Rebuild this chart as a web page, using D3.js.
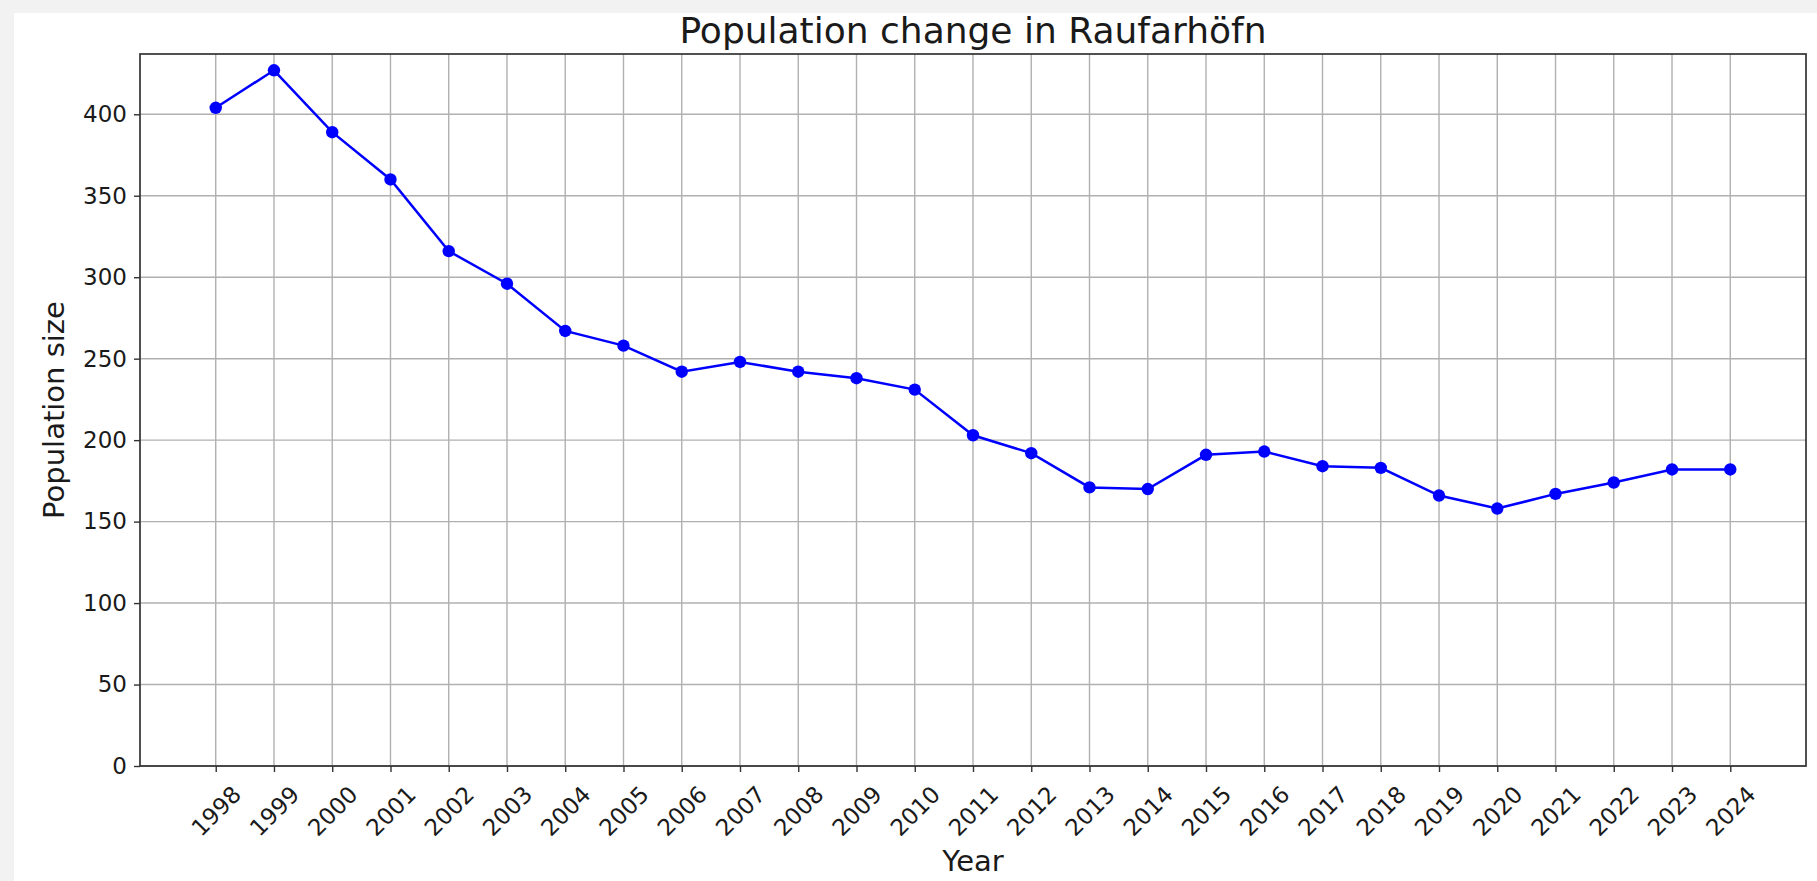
<!DOCTYPE html>
<html>
<head>
<meta charset="utf-8">
<script src="https://cdn.jsdelivr.net/npm/d3@7"></script>
<style>
  html, body { margin: 0; padding: 0; background: #f2f2f2; }
  svg { display: block; }
  text { font-family: "DejaVu Sans", sans-serif; fill: #1a1a1a; }
</style>
</head>
<body>
<div id="chart"></div>
<script>
// data
var years = [1998, 1999, 2000, 2001, 2002, 2003, 2004, 2005, 2006, 2007, 2008, 2009, 2010,
    2011, 2012, 2013, 2014, 2015, 2016, 2017, 2018, 2019, 2020, 2021, 2022, 2023, 2024];
var population = [404, 427, 389, 360, 316, 296, 267, 258, 242, 248, 242, 238, 231,
    203, 192, 171, 170, 191, 193, 184, 183, 166, 158, 167, 174, 182, 182];
var yTicks = [0, 50, 100, 150, 200, 250, 300, 350, 400];

var W = 1817, H = 881;
var margin = { top: 54, right: 11, bottom: 115, left: 140 },
    width = W - margin.left - margin.right,
    height = H - margin.top - margin.bottom;

var root = d3.select("#chart")
    .append("svg")
    .attr("width", W)
    .attr("height", H);

// white figure area (grey strip top/left like the screenshot)
root.append("rect")
    .attr("x", 14).attr("y", 13)
    .attr("width", W - 14).attr("height", H - 13)
    .attr("fill", "#fff");

var svg = root.append("g")
    .attr("transform", "translate(" + margin.left + "," + margin.top + ")");

// x: years with matplotlib-like 5% padding
var pad = (years[years.length - 1] - years[0]) * 0.05;
var x = d3.scaleLinear()
    .domain([years[0] - pad, years[years.length - 1] + pad])
    .range([0, width]);

var y = d3.scaleLinear()
    .domain([0, 437])
    .range([height, 0]);

// grid
svg.append("g").selectAll("line.vgrid")
    .data(years)
    .enter().append("line")
    .attr("x1", d => x(d)).attr("x2", d => x(d))
    .attr("y1", 0).attr("y2", height)
    .attr("stroke", "#b0b0b0").attr("stroke-width", 1.4);

svg.append("g").selectAll("line.hgrid")
    .data(yTicks)
    .enter().append("line")
    .attr("x1", 0).attr("x2", width)
    .attr("y1", d => y(d)).attr("y2", d => y(d))
    .attr("stroke", "#b0b0b0").attr("stroke-width", 1.4);

// Y axis
var yAxis = svg.append("g")
    .call(d3.axisLeft(y).tickValues(yTicks).tickSize(6).tickPadding(7));
yAxis.select(".domain").remove();
yAxis.selectAll("line").attr("stroke", "#333").attr("stroke-width", 1.4);
yAxis.selectAll("text")
    .style("font-size", "23px")
    .attr("fill", "#1a1a1a");

// X axis
var xAxis = svg.append("g")
    .attr("transform", "translate(0," + height + ")")
    .call(d3.axisBottom(x).tickValues(years).tickFormat(d3.format("d")).tickSize(6));
xAxis.select(".domain").remove();
xAxis.selectAll("line").attr("stroke", "#333").attr("stroke-width", 1.4);
xAxis.selectAll("text")
    .style("font-size", "23px")
    .attr("fill", "#1a1a1a")
    .attr("y", 0)
    .attr("dy", "0.35em")
    .attr("text-anchor", "middle")
    .attr("transform", "translate(0,45) rotate(-45)");

// frame
svg.append("rect")
    .attr("width", width)
    .attr("height", height)
    .attr("fill", "none")
    .attr("stroke", "#333")
    .attr("stroke-width", 1.7);

// line + markers
var line = d3.line()
    .x((d, i) => x(years[i]))
    .y(d => y(d));

svg.append("path")
    .datum(population)
    .attr("d", line)
    .attr("fill", "none")
    .attr("stroke", "#0000ff")
    .attr("stroke-width", 2.5);

svg.selectAll("circle")
    .data(population)
    .enter()
    .append("circle")
    .attr("cx", (d, i) => x(years[i]))
    .attr("cy", d => y(d))
    .attr("r", 6.2)
    .attr("fill", "#0000ff");

// labels
root.append("text")
    .attr("x", margin.left + width / 2)
    .attr("y", 43)
    .attr("text-anchor", "middle")
    .style("font-size", "36px")
    .text("Population change in Raufarhöfn");

root.append("text")
    .attr("x", margin.left + width / 2)
    .attr("y", 871)
    .attr("text-anchor", "middle")
    .style("font-size", "29px")
    .text("Year");

root.append("text")
    .attr("transform", "translate(64," + (margin.top + height / 2) + ") rotate(-90)")
    .attr("text-anchor", "middle")
    .style("font-size", "29px")
    .text("Population size");
</script>
</body>
</html>
